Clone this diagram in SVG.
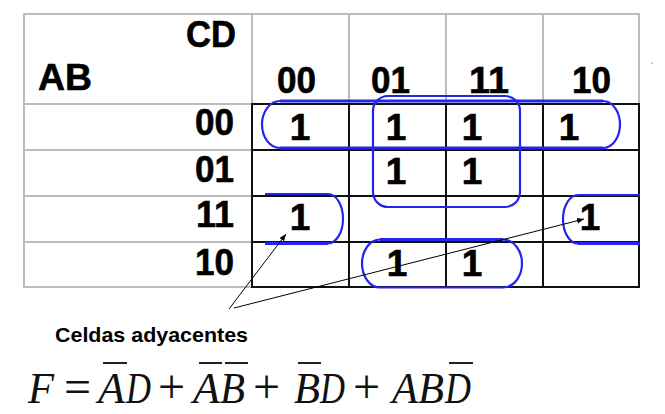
<svg xmlns="http://www.w3.org/2000/svg" width="665" height="414" viewBox="0 0 665 414">
<defs>
<style>
.g{stroke:#bcbcbc;stroke-width:2;fill:none}
.k{stroke:#111;stroke-width:2;fill:none}
.lb{font-family:"Liberation Sans",Arial,sans-serif;font-weight:bold;font-size:37px;fill:#000;stroke:#000;stroke-width:0.6}
.one{font-family:"Liberation Sans",Arial,sans-serif;font-weight:bold;font-size:37px;fill:#000;stroke:#000;stroke-width:0.6;text-anchor:middle}
.loop{stroke:#2424f0;stroke-width:2.2;fill:none}
.thick{stroke:#2424f0;stroke-width:3;fill:none}
.arr{stroke:#000;stroke-width:1;fill:none;marker-end:url(#ah)}
.cap{font-family:"Liberation Sans",Arial,sans-serif;font-weight:bold;font-size:21px;fill:#000}
.m{font-family:"Liberation Serif","Times New Roman",serif;font-style:italic;font-size:44px;fill:#111}
.op{font-family:"Liberation Serif","Times New Roman",serif;font-size:48px;fill:#111}
.ov{stroke:#222;stroke-width:2}
</style>
<marker id="ah" viewBox="0 0 10 10" refX="10" refY="5" markerWidth="7" markerHeight="7" orient="auto" markerUnits="userSpaceOnUse">
<path d="M0,1 L10,5 L0,9 Z" fill="#000"/>
</marker>
</defs>
<rect width="665" height="414" fill="#fff"/>

<g id="table">
<rect class="g" x="24" y="14" width="615" height="273"/>
<line class="g" x1="349" y1="14" x2="349" y2="104"/>
<line class="g" x1="446" y1="14" x2="446" y2="104"/>
<line class="g" x1="543" y1="14" x2="543" y2="104"/>
<line class="g" x1="24" y1="104" x2="252" y2="104"/>
<line class="g" x1="24" y1="150" x2="252" y2="150"/>
<line class="g" x1="24" y1="196" x2="252" y2="196"/>
<line class="g" x1="24" y1="242" x2="252" y2="242"/>
<line class="g" x1="252" y1="14" x2="252" y2="104"/>
<rect class="k" x="252" y="104" width="387" height="183"/>
<line class="k" x1="349" y1="104" x2="349" y2="287"/>
<line class="k" x1="446" y1="104" x2="446" y2="287"/>
<line class="k" x1="543" y1="104" x2="543" y2="287"/>
<line class="k" x1="252" y1="150" x2="639" y2="150"/>
<line class="k" x1="252" y1="196" x2="639" y2="196"/>
<line class="k" x1="252" y1="242" x2="639" y2="242"/>
<circle cx="652" cy="63" r="1" fill="#bbb"/>
</g>

<g id="labels">
<text class="lb" x="186" y="47" textLength="50" lengthAdjust="spacingAndGlyphs">CD</text>
<text class="lb" x="38" y="90" textLength="54" lengthAdjust="spacingAndGlyphs">AB</text>
<text class="lb" x="277" y="93" textLength="39" lengthAdjust="spacingAndGlyphs">00</text>
<text class="lb" x="371" y="93" textLength="39" lengthAdjust="spacingAndGlyphs">01</text>
<text class="lb" x="469" y="93" textLength="40" lengthAdjust="spacingAndGlyphs">11</text>
<text class="lb" x="572" y="93" textLength="39" lengthAdjust="spacingAndGlyphs">10</text>
<text class="lb" x="195" y="135" textLength="39" lengthAdjust="spacingAndGlyphs">00</text>
<text class="lb" x="195" y="182" textLength="39" lengthAdjust="spacingAndGlyphs">01</text>
<text class="lb" x="196" y="227" textLength="38" lengthAdjust="spacingAndGlyphs">11</text>
<text class="lb" x="195" y="275" textLength="39" lengthAdjust="spacingAndGlyphs">10</text>
</g>

<g id="cells">
<text class="one" x="300" y="140">1</text>
<text class="one" x="396" y="140">1</text>
<text class="one" x="472" y="140">1</text>
<text class="one" x="569" y="140">1</text>
<text class="one" x="396" y="184">1</text>
<text class="one" x="472" y="184">1</text>
<text class="one" x="300" y="230">1</text>
<text class="one" x="590" y="230">1</text>
<text class="one" x="397" y="276">1</text>
<text class="one" x="472" y="276">1</text>
</g>

<g id="group-row00">
<path class="loop" d="M603,148 A17,23.5 0 0 0 603,101 M280,101 A18,23.5 0 0 0 280,148"/>
<path class="thick" d="M280,101 H603 M280,148 H603"/>
</g>
<g id="group-center">
<rect class="loop" x="373" y="96" width="147" height="111" rx="15" ry="15"/>
</g>
<g id="group-row11-left">
<path class="loop" d="M265,194 H328 A15,24.7 0 0 1 328,243.4"/>
<path class="thick" d="M328,243.4 H265"/>
</g>
<g id="group-row11-right">
<path class="loop" d="M640,195 H578 A15,24.2 0 0 0 578,243.4"/>
<path class="thick" d="M578,243.4 H640"/>
</g>
<g id="group-row10">
<path class="loop" d="M503,239.5 A19,24 0 0 1 503,287.5 H380 A18,24 0 0 1 380,239.5"/>
<path class="thick" d="M380,239.5 H503"/>
</g>

<g id="connectors">
<line class="arr" x1="229" y1="309" x2="286" y2="234"/>
<line class="arr" x1="234" y1="308" x2="584" y2="219"/>
</g>

<g id="caption">
<text class="cap" x="55" y="342" textLength="193" lengthAdjust="spacingAndGlyphs">Celdas adyacentes</text>
</g>

<g id="formula">
<text class="m" x="28" y="403" textLength="26" lengthAdjust="spacingAndGlyphs">F</text>
<text class="op" x="64" y="403">=</text>
<text class="m" x="98" y="403" textLength="27" lengthAdjust="spacingAndGlyphs">A</text>
<text class="m" x="126" y="403" textLength="25" lengthAdjust="spacingAndGlyphs">D</text>
<text class="op" x="158" y="403">+</text>
<text class="m" x="193" y="403" textLength="27" lengthAdjust="spacingAndGlyphs">A</text>
<text class="m" x="220" y="403" textLength="25" lengthAdjust="spacingAndGlyphs">B</text>
<text class="op" x="253" y="403">+</text>
<text class="m" x="294" y="403" textLength="26" lengthAdjust="spacingAndGlyphs">B</text>
<text class="m" x="320" y="403" textLength="25" lengthAdjust="spacingAndGlyphs">D</text>
<text class="op" x="353" y="403">+</text>
<text class="m" x="392" y="403" textLength="26" lengthAdjust="spacingAndGlyphs">A</text>
<text class="m" x="418" y="403" textLength="26" lengthAdjust="spacingAndGlyphs">B</text>
<text class="m" x="445" y="403" textLength="26" lengthAdjust="spacingAndGlyphs">D</text>
<line class="ov" x1="103" y1="363" x2="127" y2="363"/>
<line class="ov" x1="199" y1="363" x2="222" y2="363"/>
<line class="ov" x1="225" y1="363" x2="248" y2="363"/>
<line class="ov" x1="298" y1="363" x2="321" y2="363"/>
<line class="ov" x1="449" y1="363" x2="473" y2="363"/>
</g>
</svg>
